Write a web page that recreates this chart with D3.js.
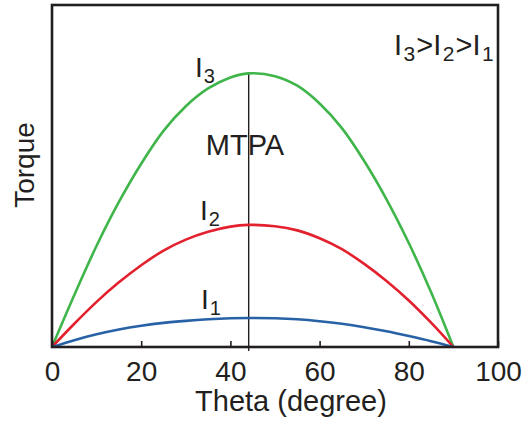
<!DOCTYPE html>
<html>
<head>
<meta charset="utf-8">
<script src="https://cdn.jsdelivr.net/npm/d3@7"></script>
<style>
  body { margin: 0; background: #fff; }
  svg { display: block; }
  text { font-family: "Liberation Sans", Arial, sans-serif; fill: #231f20; }
</style>
</head>
<body>
<svg id="chart" width="530" height="424"></svg>
<script>
// values (torque in arbitrary units, 0-100)
const theta = [0, 5, 10, 15, 20, 25, 30, 35, 40, 44, 50, 55, 60, 65, 70, 75, 80, 85, 90];
const torqueI3 = [0, 15.2, 29.6, 42.4, 53.6, 63.2, 70.4, 75.6, 78.8, 80, 79.2, 76.4, 71.2, 64, 54.4, 43.2, 30.4, 16, 0];
const torqueI2 = [0, 6.8, 13.2, 18.9, 23.9, 28.2, 31.4, 33.7, 35.2, 35.7, 35.3, 34.1, 31.8, 28.6, 24.3, 19.3, 13.6, 7.1, 0];
const torqueI1 = [0, 2.0, 3.7, 5.1, 6.2, 7.05, 7.65, 8.1, 8.4, 8.5, 8.4, 8.1, 7.55, 6.8, 5.8, 4.6, 3.2, 1.7, 0];
const xTicks = [0, 20, 40, 60, 80, 100];
const mtpaTheta = 44.1;

const margin = { top: 5, right: 32, bottom: 77, left: 52 };
const width = 530 - margin.left - margin.right;
const height = 424 - margin.top - margin.bottom;

const svg = d3.select("#chart");
const g = svg.append("g").attr("transform", `translate(${margin.left}, ${margin.top})`);

const x = d3.scaleLinear().domain([0, 100]).range([0, width]);
const y = d3.scaleLinear().domain([0, 100]).range([height, 0]);

const series = [
  { name: "3", values: torqueI3, color: "#3fb54a", label: [143, 77] },
  { name: "2", values: torqueI2, color: "#e3202e", label: [148, 220] },
  { name: "1", values: torqueI1, color: "#2862a6", label: [149, 309] }
];

const line = d3.line()
  .x((d, i) => x(theta[i]))
  .y(d => y(d))
  .curve(d3.curveCatmullRom.alpha(0.5));

// MTPA line, from top curve peak down a little past the axis
g.append("line")
  .attr("x1", x(mtpaTheta)).attr("x2", x(mtpaTheta))
  .attr("y1", y(d3.max(torqueI3))).attr("y2", height + 4)
  .attr("stroke", "#231f20").attr("stroke-width", 1.4);

g.selectAll(".curve")
  .data(series)
  .join("path")
  .attr("class", "curve")
  .attr("d", d => line(d.values))
  .attr("fill", "none")
  .attr("stroke", d => d.color)
  .attr("stroke-width", 2.6);

// frame
g.append("rect")
  .attr("width", width).attr("height", height)
  .attr("fill", "none")
  .attr("stroke", "#231f20").attr("stroke-width", 2.6);

const xAxis = g.append("g")
  .attr("transform", `translate(0, ${height})`)
  .call(d3.axisBottom(x).tickValues(xTicks).tickSizeInner(-6).tickSizeOuter(0).tickPadding(14));
xAxis.select(".domain").remove();
xAxis.selectAll(".tick line").attr("stroke", "#231f20").attr("stroke-width", 1.6);
xAxis.selectAll(".tick text")
  .style("font-family", '"Liberation Sans", Arial, sans-serif')
  .style("font-size", "28px").attr("fill", "#231f20");

// axis titles
svg.append("text")
  .attr("x", 291).attr("y", 411)
  .attr("text-anchor", "middle")
  .style("font-size", "29px")
  .text("Theta (degree)");

svg.append("text")
  .attr("transform", "translate(34, 165) rotate(-90)")
  .attr("text-anchor", "middle")
  .style("font-size", "28px")
  .text("Torque");

svg.append("text")
  .attr("x", 245).attr("y", 155)
  .attr("text-anchor", "middle")
  .style("font-size", "29px")
  .text("MTPA");

// curve labels
series.forEach(s => {
  const t = svg.append("text")
    .attr("x", margin.left + s.label[0]).attr("y", s.label[1])
    .style("font-size", "28px");
  t.append("tspan").text("I");
  t.append("tspan").attr("dx", 1).attr("dy", 6).style("font-size", "20px").text(s.name);
});

// top-right note
const note = svg.append("text")
  .attr("x", 394).attr("y", 55)
  .style("font-size", "29px");
[["I", false], ["3", true], [">", false], ["I", false], ["2", true], [">", false], ["I", false], ["1", true]]
  .forEach(([txt, sub], i, arr) => {
    const prevSub = i > 0 && arr[i - 1][1];
    const ts = note.append("tspan").text(txt);
    if (sub) ts.attr("dx", 1.5).attr("dy", 6).style("font-size", "21px");
    else if (prevSub) ts.attr("dx", 1).attr("dy", -6);
  });
</script>
</body>
</html>
